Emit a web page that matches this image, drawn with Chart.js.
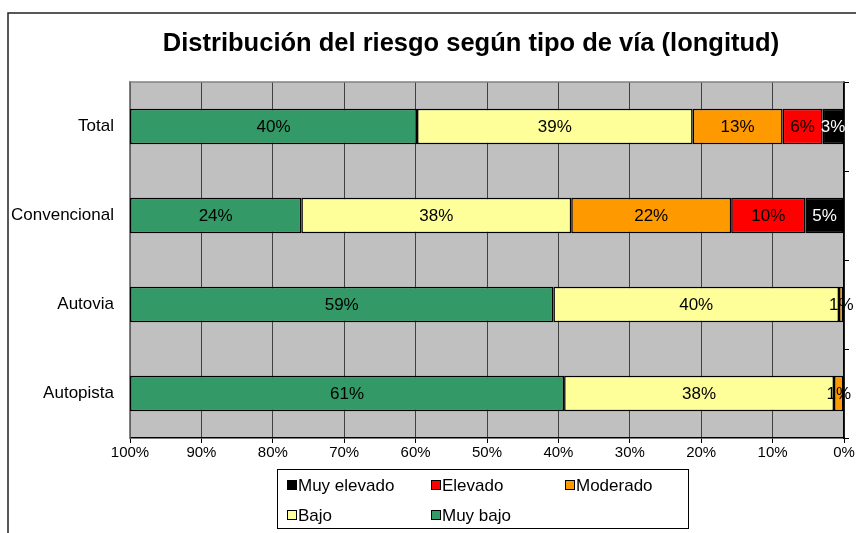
<!DOCTYPE html>
<html>
<head>
<meta charset="utf-8">
<script src="https://cdn.jsdelivr.net/npm/chart.js@4"></script>
<style>
  html, body { margin: 0; padding: 0; background: #fff; }
  #wrap { width: 856px; height: 533px; }
</style>
</head>
<body>
<div id="wrap"><canvas id="chart" width="856" height="533"></canvas></div>
<script>
// Data
const categories = ['Total', 'Convencional', 'Autovia', 'Autopista'];
const muyElevado = [3.0, 5.4, 0, 0];
const elevado = [5.6, 10.4, 0, 0];
const moderado = [12.6, 22.4, 0.7, 1.4];
const bajo = [38.6, 37.8, 40.0, 37.8];
const muyBajo = [40.2, 24.0, 59.3, 60.8];
const xTicks = [0, 10, 20, 30, 40, 50, 60, 70, 80, 90, 100];
const titleText = 'Distribución del riesgo según tipo de vía (longitud)';

const FONT = "'Liberation Sans', Arial, sans-serif";

const seriesDefs = [
    { label: 'Muy elevado', data: muyElevado, color: '#000000', text: '#ffffff' },
    { label: 'Elevado', data: elevado, color: '#ff0000', text: '#000000' },
    { label: 'Moderado', data: moderado, color: '#ff9900', text: '#000000' },
    { label: 'Bajo', data: bajo, color: '#ffff99', text: '#000000' },
    { label: 'Muy bajo', data: muyBajo, color: '#339966', text: '#000000' }
];

// gray plot background, outer frame and title
const frame = {
    id: 'frame',
    beforeDraw(chart) {
        const { ctx, chartArea: a } = chart;
        ctx.save();
        ctx.fillStyle = '#c0c0c0';
        ctx.fillRect(a.left, a.top, a.right - a.left, a.bottom - a.top);
        ctx.strokeStyle = '#222';
        ctx.lineWidth = 1.5;
        ctx.beginPath();
        ctx.moveTo(8, 533);
        ctx.lineTo(8, 13);
        ctx.lineTo(856, 13);
        ctx.stroke();
        ctx.fillStyle = '#000';
        ctx.font = 'bold 25.5px ' + FONT;
        ctx.textAlign = 'center';
        ctx.textBaseline = 'middle';
        ctx.fillText(titleText, 471, 44);
        ctx.restore();
    },
    afterDraw(chart) {
        const { ctx, chartArea: a } = chart;
        ctx.save();
        ctx.strokeStyle = '#808080';
        ctx.lineWidth = 1.5;
        ctx.beginPath();
        ctx.moveTo(a.left, a.top);
        ctx.lineTo(a.right, a.top);
        ctx.stroke();
        ctx.restore();
    }
};

// percentage labels in the bars
const barLabels = {
    id: 'barLabels',
    afterDatasetsDraw(chart) {
        const { ctx } = chart;
        ctx.save();
        ctx.font = '17px ' + FONT;
        ctx.textAlign = 'center';
        ctx.textBaseline = 'middle';
        chart.data.datasets.forEach((ds, i) => {
            const meta = chart.getDatasetMeta(i);
            meta.data.forEach((el, j) => {
                const v = ds.data[j];
                if (!v) return;
                ctx.fillStyle = seriesDefs[i].text;
                ctx.fillText(Math.round(v) + '%', (el.x + el.base) / 2, el.y + 1);
            });
        });
        ctx.restore();
    }
};

// legend box at the bottom, laid out in columns
const gridLegend = {
    id: 'gridLegend',
    afterDraw(chart) {
        const { ctx } = chart;
        const cols = [287, 431, 565];
        const rows = [485, 515];
        ctx.save();
        ctx.fillStyle = '#fff';
        ctx.fillRect(277, 469, 412, 59);
        ctx.strokeStyle = '#000';
        ctx.lineWidth = 1;
        ctx.strokeRect(277.5, 469.5, 411, 59);
        ctx.font = '17px ' + FONT;
        ctx.textBaseline = 'middle';
        ctx.textAlign = 'left';
        chart.data.datasets.forEach((ds, i) => {
            const x = cols[i % 3];
            const y = rows[Math.floor(i / 3)];
            ctx.fillStyle = ds.backgroundColor;
            ctx.fillRect(x, y - 5, 9, 9);
            ctx.strokeStyle = '#000';
            ctx.strokeRect(x + 0.5, y - 4.5, 9, 9);
            ctx.fillStyle = '#000';
            ctx.fillText(ds.label, x + 11, y + 1);
        });
        ctx.restore();
    }
};

new Chart(document.getElementById('chart'), {
    type: 'bar',
    data: {
        labels: categories,
        datasets: seriesDefs.map(s => ({
            label: s.label,
            data: s.data,
            backgroundColor: s.color,
            borderColor: '#000',
            borderWidth: (c) => (c.raw ? 1.5 : 0),
            borderSkipped: false,
            categoryPercentage: 0.8,
            barPercentage: 0.5
        }))
    },
    options: {
        indexAxis: 'y',
        responsive: false,
        animation: false,
        layout: { padding: { left: 0, right: 0, top: 82, bottom: 65 } },
        plugins: {
            legend: { display: false },
            tooltip: { enabled: false },
            title: { display: false }
        },
        scales: {
            x: {
                stacked: true,
                reverse: true,
                min: 0,
                max: 100,
                afterBuildTicks: (s) => { s.ticks = xTicks.map(v => ({ value: v })); },
                afterFit: (s) => { s.height = 30; },
                ticks: {
                    color: '#000',
                    font: { family: FONT, size: 15 },
                    padding: 1,
                    maxRotation: 0,
                    callback: (v) => v + '%'
                },
                grid: { color: '#404040', lineWidth: 1, tickLength: 5, tickColor: '#000' },
                border: { color: '#000', width: 1.5 }
            },
            y: {
                stacked: true,
                afterFit: (s) => { s.width = 130; },
                ticks: { color: '#000', font: { family: FONT, size: 17 }, padding: 16 },
                grid: { display: false, drawTicks: false },
                border: { color: '#808080', width: 1.5 }
            },
            y2: {
                type: 'category',
                position: 'right',
                labels: categories,
                afterFit: (s) => { s.width = 12; },
                ticks: { display: false },
                grid: { offset: true, drawOnChartArea: false, tickLength: 5, color: '#000' },
                border: { color: '#000', width: 1.5 }
            }
        }
    },
    plugins: [frame, barLabels, gridLegend]
});
</script>
</body>
</html>
